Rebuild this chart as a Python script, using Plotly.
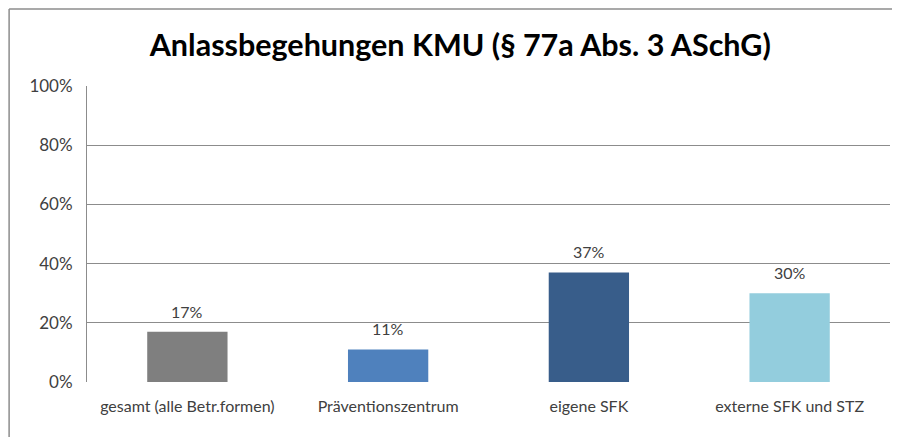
import plotly.graph_objects as go

# Data
categories = ["gesamt (alle Betr.formen)", "Präventionszentrum", "eigene SFK", "externe SFK und STZ"]
shares = [0.17, 0.11, 0.37, 0.30]
bar_colors = ["#7f7f7f", "#4f81bd", "#385d8a", "#93cddd"]
y_ticks = [0, 0.2, 0.4, 0.6, 0.8, 1.0]
y_tick_labels = ["0%", "20%", "40%", "60%", "80%", "100%"]
title_text = "Anlassbegehungen KMU (§ 77a Abs. 3 ASchG)"

FONT = "Lato"

fig = go.Figure()

fig.add_trace(go.Bar(
    x=categories, y=shares,
    marker=dict(color=bar_colors, line=dict(width=0)),
    hovertemplate='%{x}<br>%{y:.0%}<extra></extra>'
))

# value labels above the bars
for cat, val in zip(categories, shares):
    fig.add_annotation(
        x=cat, y=val, text=f"{val:.0%}", showarrow=False,
        yanchor="bottom", yshift=9,
        font=dict(family=FONT, size=16, color="#404040")
    )

# outer chart frame (left and top edges visible in the reference)
fig.add_shape(type="line", xref="paper", yref="paper",
              x0=-0.097, y0=1.26, x1=1.05, y1=1.26,
              line=dict(color="#8c8c8c", width=1.5))
fig.add_shape(type="line", xref="paper", yref="paper",
              x0=-0.097, y0=1.26, x1=-0.097, y1=-0.25,
              line=dict(color="#8c8c8c", width=1.5))

fig.update_layout(
    title=dict(text=title_text, x=0.507, xanchor="center", y=0.914, yanchor="middle",
               font=dict(family=FONT, size=30.5, color="#000000", weight="bold")),
    width=892, height=429,
    margin=dict(l=79, r=10, t=78, b=55),
    paper_bgcolor="white", plot_bgcolor="white",
    bargap=0.6,
    showlegend=False,
    xaxis=dict(
        showline=False, showgrid=False, ticks="",
        ticklabelstandoff=13,
        tickfont=dict(family=FONT, size=16, color="#404040"),
    ),
    yaxis=dict(
        range=[0, 1], tickvals=y_ticks, ticktext=y_tick_labels,
        showgrid=True, gridcolor="#8c8c8c", gridwidth=1,
        showline=True, linecolor="#8c8c8c", linewidth=1,
        zeroline=False, ticks="", ticklen=0,
        ticklabelstandoff=10,
        tickfont=dict(family=FONT, size=17, color="#404040"),
    ),
)

fig.write_html("out.html")
